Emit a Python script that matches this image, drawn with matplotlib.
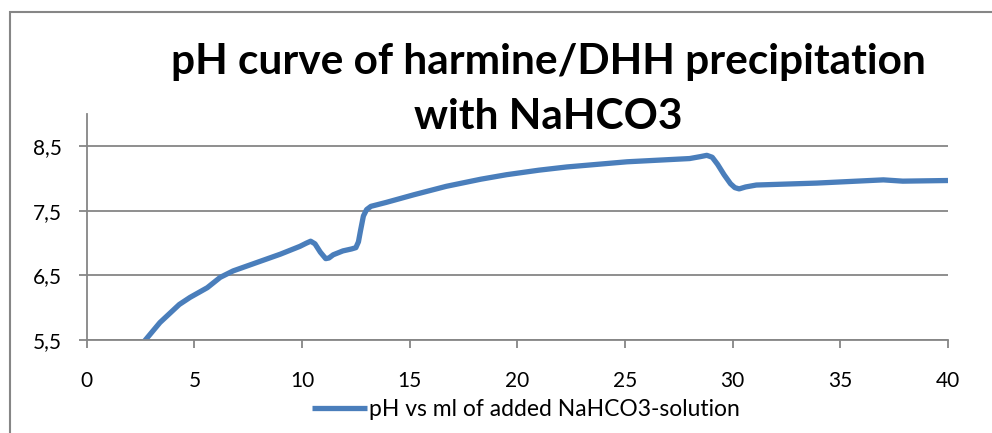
import matplotlib
matplotlib.use("Agg")
import matplotlib.pyplot as plt
from matplotlib.patches import Rectangle

# ml of NaHCO3 solution added vs measured pH
ml = [2.6, 3.4, 4.3, 4.8, 5.6, 6.2, 6.8, 7.9, 9.0, 9.9, 10.2, 10.4, 10.6, 10.85, 11.1,
      11.25, 11.45, 11.9, 12.3, 12.5, 12.62, 12.72, 12.85, 13.0, 13.2, 13.9, 15.2,
      16.7, 18.3, 19.5, 21.0, 22.3, 25.1, 28.0, 28.5, 28.8, 29.05, 29.3, 29.6, 29.9,
      30.1, 30.3, 30.6, 31.1, 33.9, 37.0, 37.9, 40.0]
ph = [5.45, 5.77, 6.05, 6.16, 6.31, 6.47, 6.57, 6.70, 6.83, 6.95, 7.00, 7.03, 6.99, 6.86, 6.76,
      6.77, 6.82, 6.88, 6.91, 6.93, 7.02, 7.20, 7.42, 7.52, 7.57, 7.63, 7.75,
      7.88, 7.99, 8.06, 8.13, 8.18, 8.26, 8.31, 8.34, 8.36, 8.33, 8.22, 8.06, 7.92,
      7.86, 7.84, 7.87, 7.90, 7.93, 7.98, 7.96, 7.97]

yticks = [5.5, 6.5, 7.5, 8.5]
ytick_labels = ["5,5", "6,5", "7,5", "8,5"]
xticks = [0, 5, 10, 15, 20, 25, 30, 35, 40]

plt.rcParams['font.family'] = ['Lato', 'DejaVu Sans']
grey = "#868686"

fig = plt.figure(figsize=(9.92, 4.33), dpi=100)
ax = fig.add_axes([86.7 / 992, 93 / 433, 861.3 / 992, 226 / 433])

# chart frame (cropped at right and bottom)
fig.patches.append(Rectangle((9.5 / 992, -0.1), 1.2, (433 - 12.5) / 433 + 0.1,
                             transform=fig.transFigure, fill=False,
                             edgecolor=grey, linewidth=1.5))

ax.plot(ml, ph, color="#4A7EBB", linewidth=3.8, solid_joinstyle="round",
        solid_capstyle="butt", label="pH vs ml of added NaHCO3-solution")

ax.set_xlim(0, 40)
ax.set_ylim(5.5, 9.0)
ax.set_xticks(xticks)
ax.set_yticks(yticks)
ax.set_yticklabels(ytick_labels)
ax.yaxis.grid(True, color=grey, linewidth=1.3)
ax.set_axisbelow(True)
for s in ["top", "right"]:
    ax.spines[s].set_visible(False)
for s in ["left", "bottom"]:
    ax.spines[s].set_color(grey)
    ax.spines[s].set_linewidth(1.3)
ax.tick_params(axis="y", length=6, width=1.3, color=grey, pad=12, labelsize=15)
ax.tick_params(axis="x", length=6, width=1.3, color=grey, pad=16, labelsize=15)

fig.text(548 / 992, 1 - 62 / 433, "pH curve of harmine/DHH precipitation",
         ha="center", va="center", fontsize=30.5, fontweight="bold")
fig.text(548 / 992, 1 - 117 / 433, "with NaHCO3",
         ha="center", va="center", fontsize=30.5, fontweight="bold")

ax.legend(loc="center", bbox_to_anchor=(526 / 992, 1 - 410 / 433),
          bbox_transform=fig.transFigure, frameon=False, fontsize=16.5,
          handlelength=2.4, handletextpad=0.1, borderpad=0)

fig.savefig("out.png", dpi=100)
